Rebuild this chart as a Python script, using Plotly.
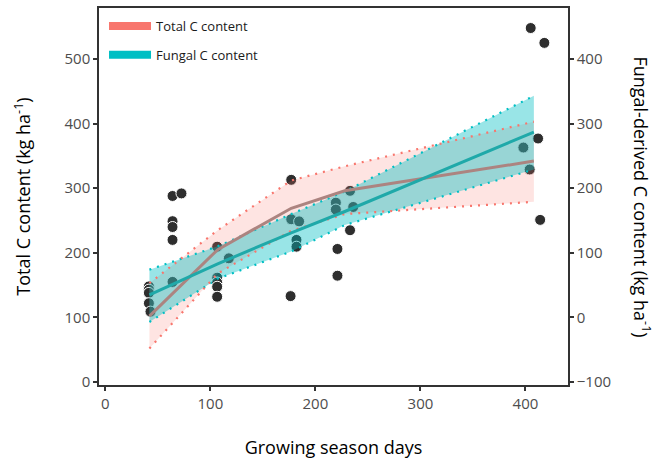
import plotly.graph_objects as go

# ---- data ----
# observed points (growing season days, total C content kg/ha)
pt_days = [41.5, 41.5, 41.5, 41.5, 43,
           64, 72.5, 64, 64, 64, 64,
           106.5, 106.5, 106.5, 106.5, 106.5, 117.6,
           177, 177, 184.5, 182, 182, 176.4,
           219.5, 219.5, 233, 236, 233, 221, 221,
           405, 418, 412, 398, 404, 414]
pt_total = [148, 143, 138, 122, 109,
            288, 292, 249, 240, 220, 155,
            209.5, 161.5, 154, 147.5, 132, 191.5,
            313, 252, 248.7, 220, 209.5, 133,
            277.6, 267, 296, 271, 235, 206, 164.6,
            548, 525, 377, 363, 329, 251]

# fitted curves evaluated at the sampled days
fit_days = [42, 107, 177, 228, 408]
total_fit = [102, 205, 269, 296, 342]
total_hi = [153, 235, 312, 334, 403]
total_lo = [52, 168, 234, 260, 279]
fungal_fit = [35, 83, 131, 164, 287]
fungal_hi = [74, 110, 160, 195, 343]
fungal_lo = [-7, 60, 102, 143, 229]

x_ticks = [0, 100, 200, 300, 400]
y_ticks = [0, 100, 200, 300, 400, 500]
y2_ticks = [-100, 0, 100, 200, 300, 400]

Y_RANGE = [-4.6, 579]
Y2_RANGE = [-104.6, 479]

PINK = "#F8766D"
TEAL = "#00BFC4"
FONT = "Open Sans"

fig = go.Figure()

# points
fig.add_trace(go.Scatter(x=pt_days, y=pt_total, mode="markers", showlegend=False,
                         marker=dict(size=11, color="#2e2e2e",
                                     line=dict(color="white", width=1))))

# total C ribbon
fig.add_trace(go.Scatter(x=fit_days + fit_days[::-1], y=total_hi + total_lo[::-1],
                         fill="toself", fillcolor="rgba(248,118,109,0.2)",
                         line=dict(width=0), mode="lines", showlegend=False,
                         hoverinfo="skip"))

# fungal C ribbon (secondary axis)
fig.add_trace(go.Scatter(x=fit_days + fit_days[::-1], y=fungal_hi + fungal_lo[::-1],
                         fill="toself", fillcolor="rgba(0,191,196,0.4)",
                         line=dict(width=0), mode="lines", showlegend=False,
                         hoverinfo="skip", yaxis="y2"))
for arr in (fungal_hi, fungal_lo):
    fig.add_trace(go.Scatter(x=fit_days, y=arr, mode="lines", showlegend=False,
                             line=dict(color=TEAL, width=2.2, dash="2px,6px"),
                             yaxis="y2"))

# total C fit line and band edges drawn above the fungal ribbon
fig.add_trace(go.Scatter(x=fit_days, y=total_fit, mode="lines", showlegend=False,
                         line=dict(color="rgb(172,132,128)", width=3), yaxis="y3"))
for arr in (total_hi, total_lo):
    fig.add_trace(go.Scatter(x=fit_days, y=arr, mode="lines", showlegend=False,
                             line=dict(color=PINK, width=2.2, dash="2px,6px"),
                             yaxis="y3"))

# fungal fit line on top
fig.add_trace(go.Scatter(x=fit_days, y=fungal_fit, mode="lines", showlegend=False,
                         line=dict(color="#1FA9A9", width=3), yaxis="y4"))

# legend entries
fig.add_trace(go.Scatter(x=[None], y=[None], mode="lines", name="Total C content",
                         legendgroup="a", line=dict(color=PINK, width=8)))
fig.add_trace(go.Scatter(x=[None], y=[None], mode="lines", name="Fungal C content",
                         legendgroup="b", line=dict(color=TEAL, width=8)))

axis_line = dict(showline=True, linecolor="#333333", linewidth=1.5,
                 ticks="outside", ticklen=4, tickwidth=1.5, tickcolor="#333333",
                 showgrid=False, zeroline=False, automargin=False,
                 tickfont=dict(family=FONT, size=15, color="#4d4d4d"))

fig.update_layout(
    width=654, height=462,
    margin=dict(l=99, r=86, t=8, b=77, autoexpand=False),
    paper_bgcolor="white", plot_bgcolor="white",
    font=dict(family=FONT),
    xaxis=dict(range=[-6, 440.5], tickvals=x_ticks, mirror=True,
               title=dict(text="Growing season days", standoff=30,
                          font=dict(family=FONT, size=18, color="black")),
               **axis_line),
    yaxis=dict(range=Y_RANGE, tickvals=y_ticks,
               title=dict(text="Total C content (kg ha<sup>-1</sup>)", standoff=29,
                          font=dict(family=FONT, size=18, color="black")),
               **axis_line),
    yaxis2=dict(range=Y2_RANGE, tickvals=y2_ticks, overlaying="y", side="right",
                anchor="x", **axis_line),
    yaxis3=dict(range=Y_RANGE, overlaying="y", visible=False, anchor="x"),
    yaxis4=dict(range=Y2_RANGE, overlaying="y", visible=False, anchor="x"),
    legend=dict(x=0.0107, y=0.992, xanchor="left", yanchor="top",
                bgcolor="rgba(0,0,0,0)", tracegroupgap=9, itemwidth=42,
                font=dict(family=FONT, size=13, color="#1a1a1a")),
    annotations=[dict(text="Fungal-derived C content (kg ha<sup>-1</sup>)",
                      xref="paper", yref="paper", x=1.158, y=0.5,
                      xanchor="center", yanchor="middle",
                      textangle=90, showarrow=False,
                      font=dict(family=FONT, size=18, color="black"))],
)

fig.write_html("out.html", config={"displayModeBar": False},
               post_script="document.body.style.margin='0px';")
